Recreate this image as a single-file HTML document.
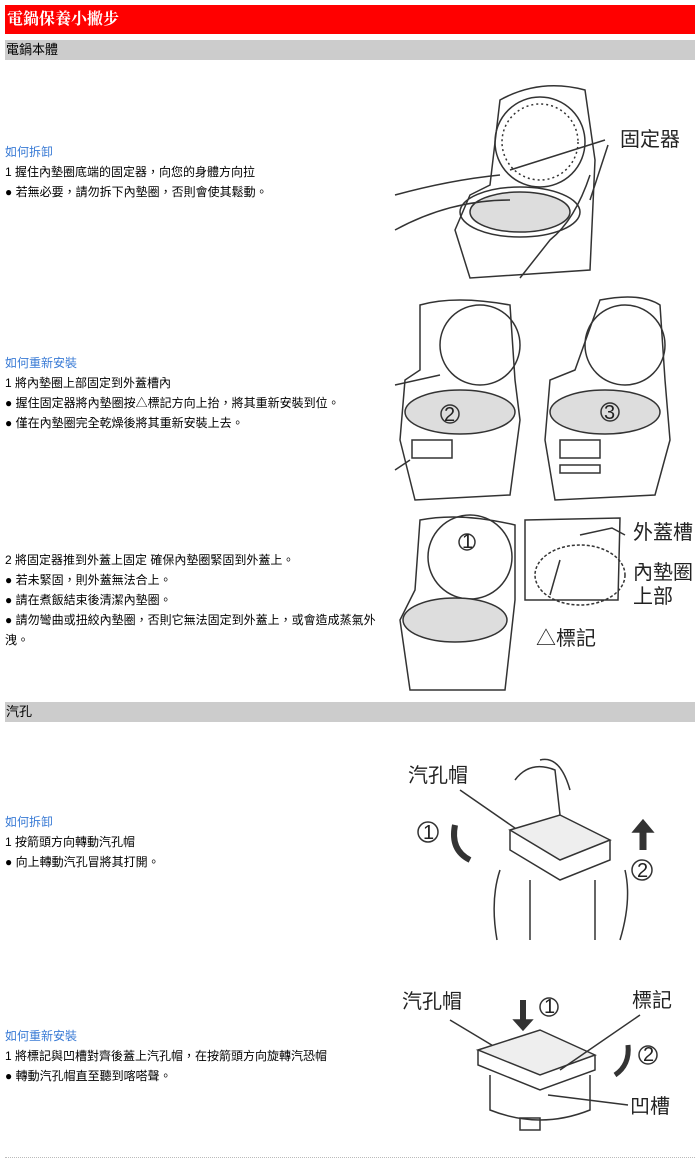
<!DOCTYPE html>
<html><head><meta charset="utf-8"><style>
body{margin:0;width:700px;height:1165px;background:#fff;position:relative;font-family:"Liberation Sans","Noto Sans CJK TC",sans-serif;font-size:12px;color:#000;overflow:hidden}
.a{position:absolute}
.red{left:5px;top:5px;width:690px;height:29px;background:#f00;color:#fff;font-family:"Liberation Serif","Noto Serif CJK SC",serif;font-weight:bold;font-size:16px;line-height:29px;padding-left:2px;box-sizing:border-box}
.gray{left:5px;width:690px;height:20px;background:#ccc;font-size:13px;line-height:20px;padding-left:1px;box-sizing:border-box}
.t{left:5px;line-height:20px;white-space:nowrap}
.b{color:#3a7bd5}
svg{position:absolute}
svg text{font-family:"Liberation Sans","Noto Sans CJK TC",sans-serif;font-size:20px;fill:#222}
</style></head><body>
<div class="a red">電鍋保養小撇步</div>
<div class="a gray" style="top:40px">電鍋本體</div>
<div class="a t" style="top:142px"><span class="b">如何拆卸</span><br>1 握住內墊圈底端的固定器，向您的身體方向拉<br>● 若無必要，請勿拆下內墊圈，否則會使其鬆動。</div>
<div class="a t" style="top:353px"><span class="b">如何重新安裝</span><br>1 將內墊圈上部固定到外蓋槽內<br>● 握住固定器將內墊圈按△標記方向上抬，將其重新安裝到位。<br>● 僅在內墊圈完全乾燥後將其重新安裝上去。</div>
<div class="a t" style="top:550px">2 將固定器推到外蓋上固定 確保內墊圈緊固到外蓋上。<br>● 若未緊固，則外蓋無法合上。<br>● 請在煮飯結束後清潔內墊圈。<br>● 請勿彎曲或扭絞內墊圈，否則它無法固定到外蓋上，或會造成蒸氣外<br>洩。</div>
<div class="a gray" style="top:702px">汽孔</div>
<div class="a t" style="top:812px"><span class="b">如何拆卸</span><br>1 按箭頭方向轉動汽孔帽<br>● 向上轉動汽孔冒將其打開。</div>
<div class="a t" style="top:1026px"><span class="b">如何重新安裝</span><br>1 將標記與凹槽對齊後蓋上汽孔帽，在按箭頭方向旋轉汽恐帽<br>● 轉動汽孔帽直至聽到喀嗒聲。</div>
<div class="a" style="left:5px;top:1157px;width:690px;border-top:1px dotted #bbb"></div>

<svg width="700" height="1165" style="left:0;top:0" fill="none" stroke="#333" stroke-width="1.5">
<!-- image 1 -->
<path d="M500 100 Q540 78 585 90 L595 160 L590 270 L470 278 L455 230 L470 195 L490 185 Z"/>
<circle cx="540" cy="142" r="45"/><circle cx="540" cy="142" r="38" stroke-dasharray="2 3"/>
<ellipse cx="520" cy="212" rx="60" ry="25"/><ellipse cx="520" cy="212" rx="50" ry="20" fill="#ddd"/>
<path d="M395 195 Q450 180 500 175 M395 230 Q450 200 510 200 M590 175 Q575 220 550 240 L520 278"/>
<path d="M510 170 L605 140 M590 200 L608 145"/>
<text x="620" y="146" stroke="none">固定器</text>
<!-- image 2 -->
<path d="M420 305 Q455 295 510 305 L515 380 L520 420 L510 495 L415 500 L400 440 L405 380 L420 370 Z"/>
<circle cx="480" cy="345" r="40"/><ellipse cx="460" cy="412" rx="55" ry="22" fill="#ddd"/>
<circle cx="450" cy="414" r="9"/><text x="444" y="421" stroke="none" font-size="14">2</text>
<path d="M395 385 L440 375 M395 470 L410 460"/>
<path d="M600 300 Q640 292 660 305 L665 380 L670 440 L655 495 L555 500 L545 440 L550 380 L575 370 Z"/>
<circle cx="625" cy="345" r="40"/><ellipse cx="605" cy="412" rx="55" ry="22" fill="#ddd"/>
<circle cx="610" cy="412" r="9"/><text x="604" y="419" stroke="none" font-size="14">3</text>
<rect x="560" y="440" width="40" height="18"/><rect x="560" y="465" width="40" height="8"/>
<rect x="412" y="440" width="40" height="18"/>
<!-- image 3 -->
<path d="M420 520 Q460 512 515 525 L515 600 L505 690 L410 690 L400 620 L415 590 Z"/>
<circle cx="470" cy="557" r="42"/><ellipse cx="455" cy="620" rx="52" ry="22" fill="#ddd"/>
<circle cx="467" cy="542" r="8"/><text x="462" y="548" stroke="none" font-size="12">1</text>
<path d="M525 520 L620 518 L618 600 L525 600 Z"/>
<ellipse cx="580" cy="575" rx="45" ry="30" stroke-dasharray="3 2"/>
<path d="M580 535 L612 528 L625 535 M550 595 L560 560"/>
<text x="633" y="539" stroke="none">外蓋槽</text>
<text x="633" y="579" stroke="none">內墊圈</text>
<text x="633" y="603" stroke="none">上部</text>
<text x="536" y="645" stroke="none">△標記</text>
<!-- image 4 -->
<text x="408" y="782" stroke="none" font-size="24">汽孔帽</text>
<path d="M460 790 L525 835"/>
<path d="M510 830 L560 815 L610 840 L560 860 Z" fill="#eee"/><path d="M510 830 L510 850 L560 880 L610 860 L610 840"/>
<path d="M530 880 L530 940 M595 880 L595 940 M500 870 Q490 900 497 940 M625 870 Q632 900 620 940"/>
<path d="M515 780 Q530 760 555 770 L560 815 M540 760 Q560 755 570 790"/>
<circle cx="428" cy="832" r="10"/><text x="423" y="839" stroke="none" font-size="15">1</text>
<path d="M455 825 Q450 850 470 860" stroke-width="6"/>
<path d="M643 850 L643 830" stroke-width="7"/><path d="M633 832 L643 820 L653 832 Z" fill="#333"/>
<circle cx="642" cy="870" r="10"/><text x="637" y="877" stroke="none" font-size="15">2</text>
<!-- image 5 -->
<text x="402" y="1008" stroke="none" font-size="22">汽孔帽</text>
<path d="M450 1020 L500 1050"/>
<path d="M478 1050 L540 1030 L595 1055 L540 1075 Z" fill="#eee"/><path d="M478 1050 L478 1065 L540 1090 L595 1070 L595 1055"/>
<path d="M490 1075 L490 1110 Q540 1130 590 1110 L590 1075"/><rect x="520" y="1118" width="20" height="12"/>
<path d="M523 1000 L523 1022" stroke-width="6"/><path d="M514 1020 L523 1030 L532 1020 Z" fill="#333"/>
<circle cx="549" cy="1007" r="9"/><text x="544" y="1013" stroke="none" font-size="14">1</text>
<text x="632" y="1007" stroke="none">標記</text><path d="M640 1015 L560 1070"/>
<circle cx="648" cy="1055" r="9"/><text x="643" y="1061" stroke="none" font-size="14">2</text>
<path d="M628 1045 Q630 1065 615 1075" stroke-width="5"/>
<text x="630" y="1113" stroke="none">凹槽</text><path d="M628 1105 L548 1095"/>
</svg>
</body></html>
